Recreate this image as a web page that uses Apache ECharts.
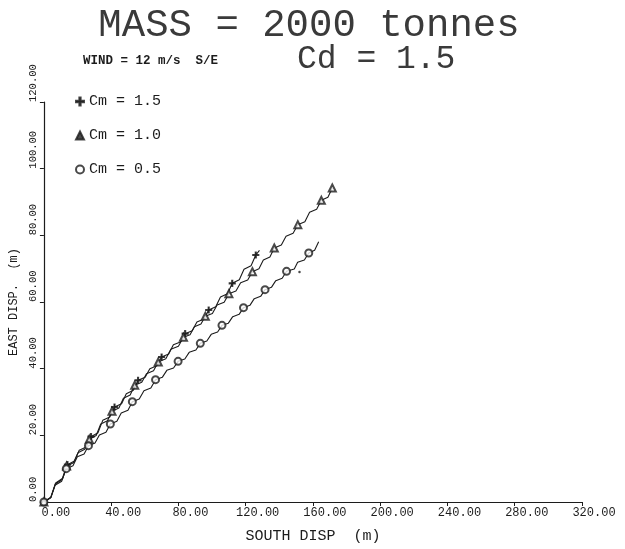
<!DOCTYPE html>
<html>
<head>
<meta charset="utf-8">
<script src="https://cdn.jsdelivr.net/npm/echarts@6/dist/echarts.min.js"></script>
<style>
  html, body { margin: 0; background: #fff; }
  #chart { width: 625px; height: 549px; }
</style>
</head>
<body>
<div id="chart"></div>
<script>
// axis ticks
const xTicks = [0, 40, 80, 120, 160, 200, 240, 280, 320];
const yTicks = [0, 20, 40, 60, 80, 100, 120];

// drift tracks: [south disp, east disp] in m
// step ends alternate with the flat part of each wiggle
const cm15Line = [
  [0, 0], [4.2, 1.4], [7, 5.7], [11.2, 7.1], [14, 11.2], [18.2, 12.3], [21, 15.5], [25.2, 16.5],
  [28, 19.6], [32.2, 20.8], [35, 24.5], [39.2, 25.5], [42, 28.5], [46.2, 29.5], [49, 32.5], [53.2, 33.5],
  [56, 36.5], [60.2, 37.4], [63, 40], [67.2, 40.9], [70, 43.5], [74.2, 44.4], [77, 47.2], [81.2, 48.0],
  [84, 50.5], [88.2, 51.4], [91, 54], [95.2, 54.9], [98, 57.6], [102.2, 58.6], [105, 61.5], [109.2, 62.5],
  [112, 65.6], [116.2, 66.7], [119, 69.8], [123.2, 70.9], [126, 74.1], [128.2, 75.5]
];
const cm10Line = [
  [0, 0], [4.1, 1.35], [6.8, 5.4], [10.8, 6.75], [13.5, 10.8], [17.6, 11.8], [20.3, 14.8], [24.3, 15.8],
  [27, 18.8], [31.1, 19.95], [33.8, 23.4], [37.8, 24.35], [40.5, 27.2], [44.6, 28.2], [47.3, 31.1], [51.3, 32.1],
  [54, 35], [58.2, 35.9], [61, 38.5], [65.2, 39.4], [68, 42], [72.5, 42.95], [75.5, 45.8], [80, 46.7],
  [83, 49.4], [86.9, 50.2], [89.5, 52.6], [93.4, 53.4], [96, 55.7], [100.2, 56.55], [103, 59.1], [107.2, 59.95],
  [110, 62.5], [114.2, 63.3], [117, 65.8], [121.2, 66.6], [124, 69.1], [127.9, 69.95], [130.5, 72.6], [134.4, 73.5],
  [137, 76.2], [141.2, 77.1], [144, 79.7], [148.2, 80.6], [151, 83.2], [155.2, 84.1], [158, 86.9], [162.2, 87.8],
  [165, 90.5], [168.9, 91.4], [171.5, 94.2]
];
const cm05Line = [
  [0, 0], [4.0, 1.25], [6.6, 5.0], [10.6, 6.25], [13.3, 10.0], [17.3, 10.9], [19.9, 13.6], [23.9, 14.4],
  [26.5, 16.9], [30.4, 17.7], [33, 20.1], [36.9, 20.9], [39.5, 23.4], [43.4, 24.2], [46, 26.7], [50.0, 27.55],
  [52.6, 30.1], [56.7, 30.9], [59.5, 33.4], [63.6, 34.2], [66.4, 36.7], [70.4, 37.4], [73.1, 39.5], [77.1, 40.2],
  [79.8, 42.2], [83.8, 42.9], [86.4, 44.9], [90.4, 45.6], [93, 47.6], [96.9, 48.3], [99.5, 50.3], [103.3, 51.0],
  [105.9, 53.0], [109.7, 53.65], [112.3, 55.6], [116.1, 56.3], [118.7, 58.3], [122.5, 59.0], [125.1, 61.0], [128.9, 61.7],
  [131.5, 63.7], [135.3, 64.4], [137.9, 66.4], [141.7, 67.1], [144.3, 69.2], [148.9, 69.9], [150.9, 71.9], [154.9, 72.6],
  [157.5, 74.7], [161.0, 75.55], [163.4, 78.1]
];
const strayDot = [[152, 69]];

const names = ['Cm = 1.5', 'Cm = 1.0', 'Cm = 0.5'];

const FONT = 'Liberation Mono';
const INK = '#1c1c1c';
const PLUS = 'path://M4.2,0H5.8V4.2H10V5.8H5.8V10H4.2V5.8H0V4.2H4.2Z';

// a marker sits on every second step end
const marks = (arr, withEnd) => arr.filter((p, i) => i % 4 === 0 || (withEnd && i === arr.length - 1));

const track = data => ({
  type: 'line', data, symbol: 'none', silent: true, z: 2,
  lineStyle: { color: INK, width: 1.1 }
});
const markers = (name, data, symbol, size) => ({
  name, type: 'scatter', data, symbol, symbolSize: size, silent: true, z: 3,
  itemStyle: { color: INK, borderColor: INK, borderWidth: 1.2 }
});

const chart = echarts.init(document.getElementById('chart'));
chart.setOption({
  backgroundColor: '#fff',
  animation: false,
  textStyle: { fontFamily: FONT, color: INK },
  grid: { left: 41, right: 43, top: 102, bottom: 37 },
  graphic: [
    { type: 'text', x: 309, y: 26, style: { text: 'MASS = 2000 tonnes', font: '39px "Liberation Mono"', fill: '#3a3a3a', align: 'center', verticalAlign: 'middle' } },
    { type: 'text', x: 297, y: 59, style: { text: 'Cd = 1.5', font: '33px "Liberation Mono"', fill: '#3a3a3a', align: 'left', verticalAlign: 'middle' } },
    { type: 'text', x: 83, y: 61, style: { text: 'WIND = 12 m/s  S/E', font: 'bold 12.5px "Liberation Mono"', fill: INK, align: 'left', verticalAlign: 'middle' } }
  ],
  legend: {
    orient: 'vertical', left: 70, top: 89,
    itemWidth: 8, itemHeight: 8, itemGap: 19,
    textStyle: { fontFamily: FONT, fontSize: 15, lineHeight: 15, color: INK },
    data: [
      { name: names[0], icon: PLUS },
      { name: names[1], icon: 'triangle' },
      { name: names[2], icon: 'emptyCircle' }
    ]
  },
  xAxis: {
    type: 'value', min: xTicks[0], max: xTicks[xTicks.length - 1], interval: 40,
    name: 'SOUTH DISP  (m)', nameLocation: 'middle', nameGap: 27,
    nameTextStyle: { fontFamily: FONT, fontSize: 15, color: INK },
    axisLine: { show: true, onZero: false, lineStyle: { color: INK, width: 1.2 } },
    axisTick: { show: true, inside: false, length: 4, lineStyle: { color: INK } },
    axisLabel: { fontFamily: FONT, fontSize: 12, color: INK, margin: 5, padding: [0, 0, 0, 24], formatter: v => v.toFixed(2) },
    splitLine: { show: false }
  },
  yAxis: {
    type: 'value', min: yTicks[0], max: yTicks[yTicks.length - 1], interval: 20,
    name: 'EAST DISP.  (m)', nameLocation: 'middle', nameGap: 19,
    nameTextStyle: { fontFamily: FONT, fontSize: 12, color: INK },
    axisLine: { show: true, onZero: false, lineStyle: { color: INK, width: 1.2 } },
    axisTick: { show: true, inside: false, length: 4, lineStyle: { color: INK } },
    axisLabel: { fontFamily: FONT, fontSize: 10.5, color: INK, rotate: 90, align: 'left', verticalAlign: 'bottom', margin: 5, formatter: v => v.toFixed(2) },
    splitLine: { show: false }
  },
  series: [
    track(cm15Line),
    track(cm10Line),
    track(cm05Line),
    markers(names[0], marks(cm15Line, false), PLUS, 6),
    markers(names[1], marks(cm10Line, true), 'emptyTriangle', 7),
    markers(names[2], marks(cm05Line, false), 'emptyCircle', 7),
    { type: 'scatter', data: strayDot, symbol: 'circle', symbolSize: 2.5, silent: true, itemStyle: { color: INK } }
  ]
});
</script>
</body>
</html>
